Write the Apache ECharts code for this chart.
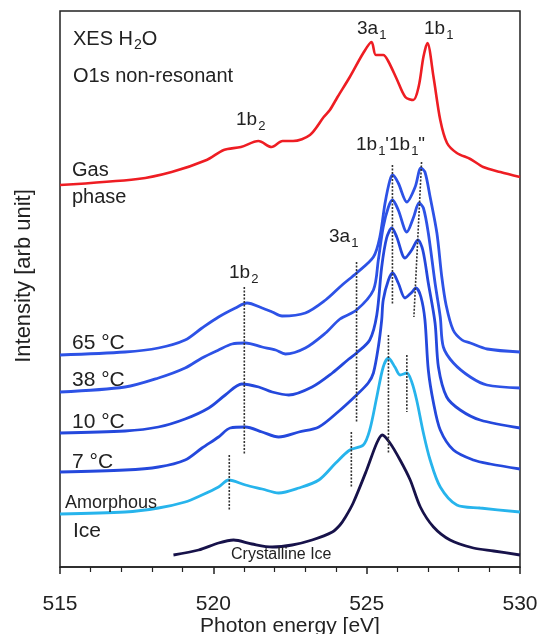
<!DOCTYPE html>
<html>
<head>
<meta charset="utf-8">
<script src="https://cdn.jsdelivr.net/npm/echarts@6/dist/echarts.min.js"></script>
<style>
html, body { margin: 0; padding: 0; background: #fff; }
#chart { width: 541px; height: 634px; }
</style>
</head>
<body>
<div id="chart"></div>
<script>
/**
 * XES H2O, O1s non-resonant spectra (gas, liquid at 4 temperatures, ices)
 * intensities are arbitrary units, stacked with offsets as in the figure
 */

// x ticks
var xTicks = [515, 520, 525, 530];

// gas phase
var gasE = [515, 517.53, 518.64, 519.78, 520.34, 520.9, 521.47, 521.9, 522.26, 522.6, 523.15, 523.6, 523.8, 524.05, 524.45, 524.89, 525.16, 525.3, 525.54, 525.7, 525.98, 526.26, 526.52, 526.7, 526.85, 526.98, 527.18, 527.4, 527.62, 527.94, 528.38, 528.8, 529.36, 530];
var gasI = [382, 388, 395, 407, 417, 420, 426, 420, 426, 426, 432, 450, 457, 470, 490, 514, 525, 512, 512, 506, 488, 470, 467, 481, 510, 524, 490, 447, 424, 414, 408, 400, 395, 390];

// liquid, 65 C
var t65E = [515, 517.12, 518.21, 519.08, 519.63, 520.17, 520.72, 521.1, 521.59, 521.92, 522.24, 523.0, 523.66, 524.2, 524.67, 525.22, 525.43, 525.6, 525.76, 525.85, 526.03, 526.31, 526.58, 526.77, 526.9, 527.07, 527.29, 527.45, 527.59, 527.82, 528.11, 528.38, 528.93, 530];
var t65I = [212, 215, 219, 227, 239, 250, 259, 264, 259, 255, 251, 254, 267, 282, 294, 310, 330, 364, 387, 392, 384, 365, 380, 399, 395, 370, 334, 290, 262, 237, 227, 224, 218, 215];

// liquid, 38 C
var t38E = [515, 517.12, 518.21, 519.08, 519.63, 520.17, 520.61, 521.05, 521.59, 522.03, 522.35, 523.0, 523.66, 524.13, 524.67, 525.22, 525.38, 525.54, 525.71, 525.84, 526.03, 526.31, 526.52, 526.71, 526.85, 527.01, 527.23, 527.4, 527.5, 527.83, 528.38, 528.92, 530];
var t38I = [175, 180, 189, 199, 209, 217, 223, 224, 220, 217, 213, 219, 234, 248, 257, 277, 307, 340, 360, 367, 357, 335, 349, 364, 359, 334, 284, 250, 220, 204, 190, 182, 179];

// liquid, 10 C
var t10E = [515, 517.12, 518.21, 519.08, 519.85, 520.39, 520.93, 521.48, 521.92, 522.46, 523.22, 523.88, 524.42, 524.67, 525.1, 525.33, 525.49, 525.65, 525.82, 525.98, 526.25, 526.47, 526.67, 526.83, 527.01, 527.23, 527.34, 527.61, 528.05, 528.7, 530];
var t10I = [134, 136, 140, 148, 159, 172, 183, 180, 175, 172, 180, 194, 208, 214, 227, 252, 300, 329, 339, 330, 309, 317, 327, 317, 284, 244, 200, 170, 157, 147, 139];

// liquid, 7 C
var t7E = [515, 517.12, 518.21, 519.08, 519.63, 520.17, 520.55, 521.05, 521.59, 522.13, 522.79, 523.44, 524.1, 524.67, 525.05, 525.22, 525.38, 525.49, 525.54, 525.71, 525.85, 526.03, 526.25, 526.45, 526.61, 526.77, 526.9, 527.01, 527.18, 527.4, 527.83, 528.48, 529.03, 530];
var t7I = [95, 97, 100, 107, 119, 130, 139, 140, 135, 130, 135, 140, 156, 172, 184, 194, 220, 247, 267, 287, 294, 284, 269, 274, 279, 270, 247, 197, 164, 137, 117, 107, 103, 98];

// amorphous ice
var amoE = [515, 517.12, 518.21, 519.08, 519.63, 520.17, 520.5, 521.05, 521.59, 522.13, 522.79, 523.44, 523.99, 524.45, 524.89, 525.1, 525.33, 525.54, 525.71, 525.92, 526.09, 526.31, 526.47, 526.63, 526.85, 527.07, 527.4, 527.94, 528.7, 530];
var amoI = [53, 55, 59, 65, 72, 80, 87, 82, 78, 74, 79, 87, 104, 117, 122, 137, 170, 200, 209, 200, 192, 194, 185, 167, 134, 107, 80, 62, 59, 55];

// crystalline ice
var cryE = [518.7, 519.52, 520.17, 520.66, 521.26, 521.92, 522.57, 523.22, 523.88, 524.13, 524.31, 524.56, 525.0, 525.33, 525.51, 525.76, 526.09, 526.42, 526.75, 527.18, 527.72, 528.48, 529.14, 530];
var cryI = [12, 17, 24, 27, 23, 20, 22, 27, 35, 42, 50, 64, 97, 124, 132, 124, 107, 87, 60, 40, 27, 19, 16, 12];

// dotted guide lines: [E top, I top, E bottom, I bottom]
var guides = [
	[521.01, 280, 521.01, 112],
	[520.52, 112, 520.52, 57],
	[524.67, 305, 524.67, 144],
	[524.50, 135, 524.50, 80],
	[525.84, 402, 525.84, 262],
	[526.79, 405, 526.54, 250],
	[525.71, 232, 525.71, 114],
	[526.31, 212, 526.31, 155]
];

function pairs(xs, ys) {
	return xs.map(function (x, i) { return [x, ys[i]]; });
}

function curve(name, xs, ys, color, width) {
	return {
		name: name,
		type: 'line',
		data: pairs(xs, ys),
		showSymbol: false,
		smooth: 0.3,
		lineStyle: { color: color, width: width },
		z: 3
	};
}

var series = [
	curve('Gas phase', gasE, gasI, '#ee1d23', 2.6),
	curve('65 °C', t65E, t65I, '#2d52e6', 2.8),
	curve('38 °C', t38E, t38I, '#2d52e6', 2.8),
	curve('10 °C', t10E, t10I, '#2448dc', 2.8),
	curve('7 °C', t7E, t7I, '#2448dc', 2.8),
	curve('Amorphous Ice', amoE, amoI, '#27b4ec', 2.8),
	curve('Crystalline Ice', cryE, cryI, '#17124a', 2.8)
];
guides.forEach(function (g, i) {
	series.push({
		name: 'guide' + i,
		type: 'line',
		data: [[g[0], g[1]], [g[2], g[3]]],
		showSymbol: false,
		lineStyle: { color: '#333', width: 1.6, type: [2, 1.5] },
		z: 4
	});
});

var txt = '#222';
var rich = function (size) {
	return {
		n: { fontSize: size, fontFamily: 'Liberation Sans', color: txt },
		s: { fontSize: Math.round(size * 0.68), fontFamily: 'Liberation Sans', color: txt, padding: [Math.round(size * 0.62), 0, 0, 1] }
	};
};
function label(x, y, text, size, rt) {
	return {
		type: 'text',
		x: x,
		y: y,
		z: 10,
		style: {
			text: text,
			font: size + 'px "Liberation Sans"',
			fill: txt,
			textVerticalAlign: 'middle',
			rich: rt ? rich(size) : undefined
		}
	};
}

var myChart = echarts.init(document.getElementById('chart'));
var option = {
	animation: false,
	backgroundColor: '#fff',
	grid: {
		left: 60, top: 11, right: 21, bottom: 67,
		show: true, borderColor: '#222', borderWidth: 1.5
	},
	xAxis: {
		type: 'value',
		min: 515,
		max: 530,
		interval: 5,
		axisLine: { show: true, lineStyle: { color: '#222', width: 1.5 } },
		axisTick: { show: true, inside: false, length: 7, lineStyle: { color: '#222', width: 1.5 } },
		minorTick: { show: true, splitNumber: 5, length: 5, lineStyle: { color: '#222', width: 1.2 } },
		splitLine: { show: false },
		axisLabel: {
			margin: 27, fontSize: 21, color: txt, fontFamily: 'Liberation Sans',
			formatter: function (v) { return xTicks.indexOf(v) >= 0 ? String(v) : ''; }
		}
	},
	yAxis: {
		type: 'value',
		min: 0,
		max: 556,
		axisLine: { show: false },
		axisTick: { show: false },
		axisLabel: { show: false },
		splitLine: { show: false }
	},
	series: series,
	graphic: [
		label(73, 39, '{n|XES H}{s|2}{n|O}', 20, true),
		label(73, 76, 'O1s non-resonant', 20),
		label(357, 29, '{n|3a}{s|1}', 19, true),
		label(424, 29, '{n|1b}{s|1}', 19, true),
		label(236, 120, '{n|1b}{s|2}', 19, true),
		label(72, 170, 'Gas', 20),
		label(72, 197, 'phase', 20),
		label(356, 145, '{n|1b}{s|1}{n|\'1b}{s|1}{n|"}', 19, true),
		label(329, 237, '{n|3a}{s|1}', 19, true),
		label(229, 273, '{n|1b}{s|2}', 19, true),
		label(72, 343, '65 °C', 21),
		label(72, 380, '38 °C', 21),
		label(72, 422, '10 °C', 21),
		label(72, 462, '7 °C', 21),
		label(65, 503, 'Amorphous', 18),
		label(73, 531, 'Ice', 21),
		label(231, 555, 'Crystalline Ice', 16),
		{
			type: 'text', x: 290, y: 626, z: 10,
			style: { text: 'Photon energy [eV]', font: '21px "Liberation Sans"', fill: txt, textAlign: 'center', textVerticalAlign: 'middle' }
		},
		{
			type: 'text', x: 24, y: 276, rotation: Math.PI / 2, z: 10,
			style: { text: 'Intensity [arb unit]', font: '22px "Liberation Sans"', fill: txt, textAlign: 'center', textVerticalAlign: 'middle' }
		}
	]
};
myChart.setOption(option);
</script>
</body>
</html>
